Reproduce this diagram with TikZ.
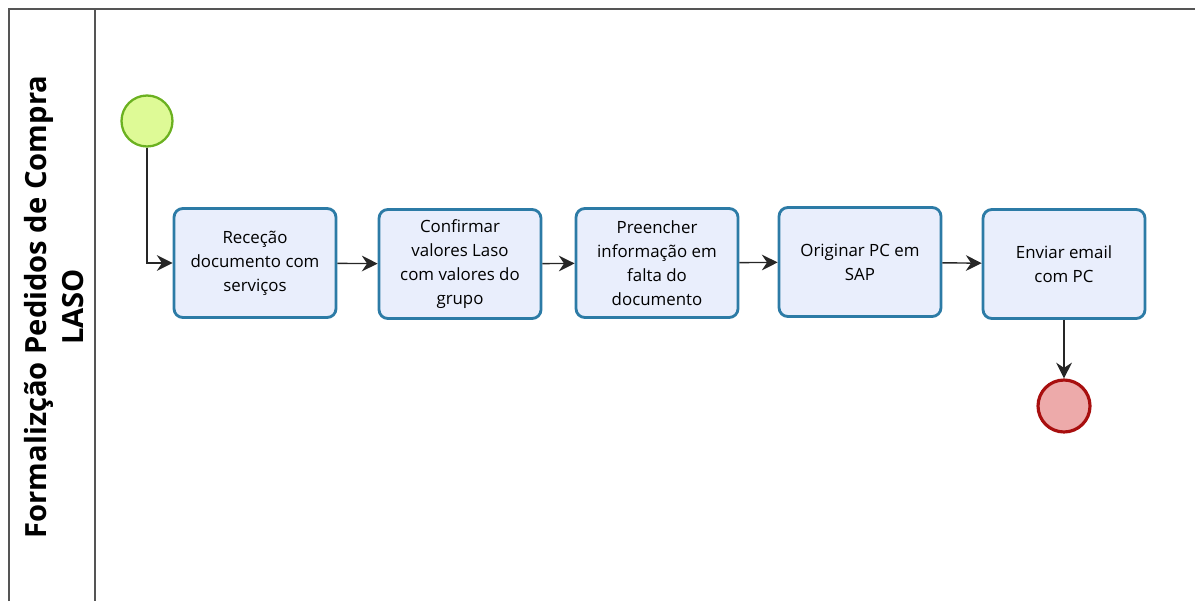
\documentclass[tikz,border=0pt]{standalone}
\usepackage{fontspec}
\setmainfont{Open Sans}
\usepackage{tikz}
\usetikzlibrary{arrows.meta}

\definecolor{taskfill}{HTML}{E9EEFC}
\definecolor{taskline}{HTML}{2C7BA6}
\definecolor{startfill}{HTML}{DEFA96}
\definecolor{startline}{HTML}{6BB120}
\definecolor{endfill}{HTML}{EDAAAA}
\definecolor{endline}{HTML}{A80F0F}
\definecolor{poolline}{HTML}{555555}

\begin{document}
\begin{tikzpicture}[x=0.02cm, y=-0.02cm,
    task/.style = {draw=taskline, fill=taskfill, line width=1.6pt, rounded corners=5pt,
                   minimum width=3.24cm, minimum height=2.18cm,
                   align=center, font=\fontsize{9.6}{13.7}\selectfont, inner sep=0pt},
    start/.style = {draw=startline, fill=startfill, line width=1.3pt, circle, minimum size=1.02cm, inner sep=0pt},
    finish/.style = {draw=endline, fill=endfill, line width=1.8pt, circle, minimum size=1.04cm, inner sep=0pt},
    flow/.style = {draw=black!85, line width=0.8pt, -{Stealth[length=9pt, width=9pt, inset=3pt]}},
    pool/.style = {draw=poolline, line width=1.1pt}]
        \useasboundingbox (0,0) rectangle (1195,601);
        % pool and lane
        \draw[pool] (9,601) -- (9,9) -- (1195,9);
        \draw[pool] (95,9) -- (95,601);
        \node[rotate=90, align=center, font=\fontsize{16.6}{21.5}\bfseries\selectfont] (lane) at (54,307)
            {Formalizção Pedidos de Compra\\LASO};
        % events
        \node[start] (start) at (147,121) {};
        \node[finish] (end) at (1064,406) {};
        % tasks
        \node[task] (recep) at (255,263) {Receção\\documento com\\serviços};
        \node[task] (confirm) at (460,264) {Confirmar\\valores Laso\\com valores do\\grupo};
        \node[task] (fill) at (657,263) {Preencher\\informação em\\falta do\\documento};
        \node[task] (origin) at (860,262) {Originar PC em\\SAP};
        \node[task] (send) at (1064,264) {Enviar email\\com PC};
        % flows
        \draw[flow] (start) |- (recep);
        \draw[flow] (recep) -- (confirm);
        \draw[flow] (confirm) -- (fill);
        \draw[flow] (fill) -- (origin);
        \draw[flow] (origin) -- (send);
        \draw[flow] (send) -- (end);
\end{tikzpicture}
\end{document}
